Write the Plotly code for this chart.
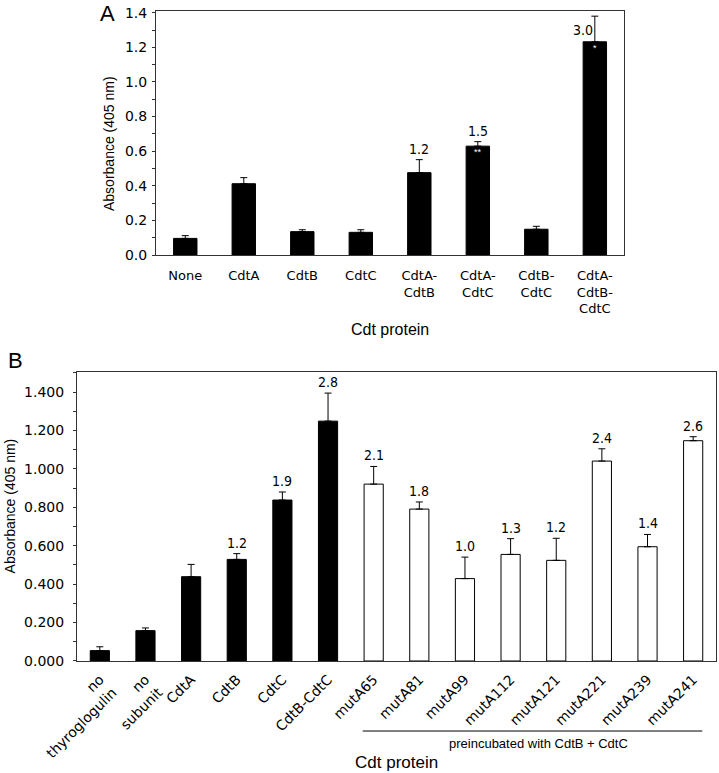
import plotly.graph_objects as go

# Panel A
a_categories = ['None', 'CdtA', 'CdtB', 'CdtC', 'CdtA-CdtB', 'CdtA-CdtC',
                'CdtB-CdtC', 'CdtA-CdtB-CdtC']
a_values = [0.096, 0.412, 0.135, 0.131, 0.476, 0.629, 0.149, 1.232]
a_errors = [0.016, 0.035, 0.011, 0.015, 0.075, 0.026, 0.017, 0.148]
a_fold = ['', '', '', '', '1.2', '1.5', '', '3.0']
a_stars = ['', '', '', '', '', '**', '', '*']

# Panel B
b_categories = ['no thyroglogulin', 'no subunit', 'CdtA', 'CdtB', 'CdtC',
                'CdtB-CdtC', 'mutA65', 'mutA81', 'mutA99', 'mutA112',
                'mutA121', 'mutA221', 'mutA239', 'mutA241']
b_values = [0.054, 0.158, 0.439, 0.529, 0.838, 1.249, 0.921, 0.791, 0.429,
            0.555, 0.524, 1.041, 0.595, 1.147]
b_errors = [0.020, 0.014, 0.064, 0.030, 0.042, 0.146, 0.092, 0.037, 0.112,
            0.082, 0.115, 0.064, 0.064, 0.021]
b_fold = ['', '', '', '1.2', '1.9', '2.8', '2.1', '1.8', '1.0', '1.3', '1.2',
          '2.4', '1.4', '2.6']
b_preincubated = [False] * 6 + [True] * 8

a_ticktext = [c.replace('-', '-<br>') for c in a_categories]
b_ticktext = [c.replace('no ', 'no<br>') for c in b_categories]

NARROW = 'Liberation Sans Narrow, DejaVu Sans Condensed, sans-serif'
ARIAL = 'Liberation Sans, Arial, sans-serif'
VERDANA = 'DejaVu Sans, Verdana, sans-serif'

fig = go.Figure()

fig.add_trace(go.Bar(
    x=a_categories, y=a_values,
    marker=dict(color='black', line=dict(color='black', width=1)),
    width=0.4,
    error_y=dict(type='data', symmetric=False, array=a_errors,
                 arrayminus=[0] * len(a_values), color='black',
                 thickness=1, width=3.5),
    xaxis='x', yaxis='y', showlegend=False
))

fig.add_trace(go.Bar(
    x=b_categories, y=b_values,
    marker=dict(color=['white' if p else 'black' for p in b_preincubated],
                line=dict(color='black', width=1)),
    width=0.42,
    error_y=dict(type='data', symmetric=False, array=b_errors,
                 arrayminus=[0] * len(b_values), color='black',
                 thickness=1, width=3.5),
    xaxis='x2', yaxis='y2', showlegend=False
))

annotations = []
for i, (v, e, f, s) in enumerate(zip(a_values, a_errors, a_fold, a_stars)):
    if f and i == len(a_values) - 1:
        # last label sits beside the error bar
        annotations.append(dict(x=a_categories[i], y=v, xref='x', yref='y',
                                text=f, showarrow=False, xanchor='right',
                                yanchor='bottom', xshift=0, yshift=2,
                                font=dict(family=NARROW, size=14, color='black')))
    elif f:
        annotations.append(dict(x=a_categories[i], y=v + e, xref='x', yref='y',
                                text=f, showarrow=False, yanchor='bottom',
                                yshift=1,
                                font=dict(family=NARROW, size=14, color='black')))
    if s:
        annotations.append(dict(x=a_categories[i], y=v, xref='x', yref='y',
                                text=s, showarrow=False, yanchor='top',
                                yshift=1,
                                font=dict(family=ARIAL, size=9, color='white')))

for i, (v, e, f) in enumerate(zip(b_values, b_errors, b_fold)):
    if f:
        annotations.append(dict(x=b_categories[i], y=v + e, xref='x2', yref='y2',
                                text=f, showarrow=False, yanchor='bottom',
                                yshift=1,
                                font=dict(family=NARROW, size=14, color='black')))

first_pre = b_preincubated.index(True)
last_pre = len(b_preincubated) - 1


def paper_text(x, y, text, size, angle=0):
    return dict(x=x, y=y, xref='paper', yref='paper', text=text,
                textangle=angle, showarrow=False, xanchor='center',
                yanchor='middle',
                font=dict(family=ARIAL, size=size, color='black'))


annotations += [
    paper_text(0.149, 0.982, 'A', 22),
    paper_text(0.021, 0.534, 'B', 22),
    paper_text(0.1516, 0.8137, 'Absorbance (405 nm)', 14, -90),
    paper_text(0.014, 0.345, 'Absorbance (405 nm)', 14, -90),
    paper_text(0.5424, 0.5731, 'Cdt protein', 16),
    paper_text(0.5508, 0.0142, 'Cdt protein', 17),
    dict(x=(first_pre + last_pre) / 2, y=0.0388, xref='x2', yref='paper',
         text='preincubated with CdtB + CdtC', showarrow=False, xshift=5,
         xanchor='center', yanchor='middle',
         font=dict(family=ARIAL, size=13, color='black')),
]

shapes = [
    dict(type='line', xref='x2', yref='paper', x0=first_pre - 0.24,
         x1=last_pre + 0.2, y0=0.0543, y1=0.0543,
         line=dict(color='black', width=1)),
]

axis_common = dict(showline=True, linecolor='#333333', linewidth=1,
                   mirror=True, showgrid=False, zeroline=False,
                   automargin=False)

fig.update_layout(
    width=719, height=773,
    margin=dict(l=0, r=0, t=0, b=0),
    paper_bgcolor='white', plot_bgcolor='white',
    bargap=0.6,
    xaxis=dict(domain=[0.217, 0.868], anchor='y', tickmode='array',
               tickvals=a_categories, ticktext=a_ticktext,
               ticks='outside', ticklen=8, tickcolor='rgba(0,0,0,0)',
               tickfont=dict(family=VERDANA, size=13, color='black'),
               **axis_common),
    yaxis=dict(domain=[0.6701, 0.9858], anchor='x', range=[0, 1.41],
               dtick=0.2, tickformat='.1f', ticks='outside', ticklen=3,
               tickcolor='#333333', ticklabelstandoff=2,
               minor=dict(dtick=0.1, ticks='outside', ticklen=3,
                          tickcolor='#333333'),
               tickfont=dict(family=VERDANA, size=14, color='black'),
               **axis_common),
    xaxis2=dict(domain=[0.1071, 0.9958], anchor='y2', tickmode='array',
                tickvals=b_categories, ticktext=b_ticktext, tickangle=-45,
                ticks='outside', ticklen=4, tickcolor='rgba(0,0,0,0)',
                tickfont=dict(family=VERDANA, size=14, color='black'),
                **axis_common),
    yaxis2=dict(domain=[0.1449, 0.5188], anchor='x2', range=[0, 1.505],
                dtick=0.2, tickformat='.3f', ticks='outside', ticklen=3,
                tickcolor='#333333', ticklabelstandoff=6,
                minor=dict(dtick=0.1, ticks='outside', ticklen=3,
                           tickcolor='#333333'),
                tickfont=dict(family=VERDANA, size=14, color='black'),
                **axis_common),
    annotations=annotations,
    shapes=shapes,
)

fig.write_html("out.html", config={'displayModeBar': False},
               post_script="document.body.style.margin='0';")
